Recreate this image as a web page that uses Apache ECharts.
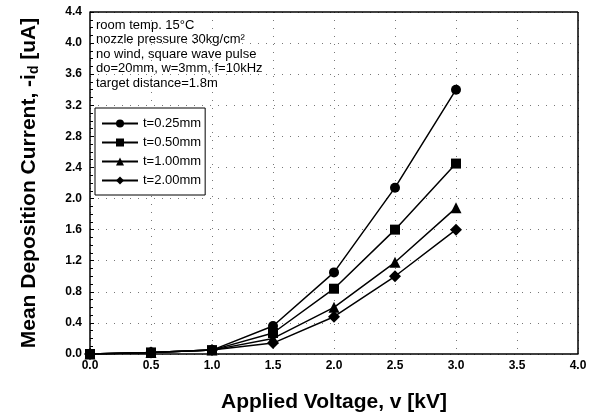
<!DOCTYPE html>
<html>
<head>
<meta charset="utf-8">
<script src="https://cdn.jsdelivr.net/npm/echarts@6/dist/echarts.min.js"></script>
<style>
  html, body { margin: 0; padding: 0; background: #fff; }
  #chart { width: 593px; height: 417px; }
</style>
</head>
<body>
<div id="chart"></div>
<script>
// voltage (kV)
var voltage = [0, 0.5, 1.0, 1.5, 2.0, 2.5, 3.0];
// mean deposition current (uA) per thickness
var t025 = [0, 0.02, 0.05, 0.36, 1.05, 2.14, 3.40];
var t050 = [0, 0.02, 0.05, 0.27, 0.84, 1.60, 2.45];
var t100 = [0, 0.02, 0.05, 0.20, 0.60, 1.18, 1.88];
var t200 = [0, 0.02, 0.05, 0.14, 0.48, 1.00, 1.60];
var seriesNames = ["t=0.25mm", "t=0.50mm", "t=1.00mm", "t=2.00mm"];
var symbols = ["circle", "rect", "triangle", "diamond"];
var notes = [
  "room temp. 15°C",
  "nozzle pressure 30kg/cm²",
  "no wind, square wave pulse",
  "do=20mm, w=3mm, f=10kHz",
  "target distance=1.8m"
];

var chart = echarts.init(document.getElementById("chart"));
var font = "Liberation Sans, Arial, sans-serif";

function pairs(ys) {
  var out = [];
  for (var i = 0; i < ys.length; i++) {
    out.push([voltage[i], ys[i]]);
  }
  return out;
}

var allData = [t025, t050, t100, t200];
var sizes = [10, 10, 11, 12];
var series = [];
for (var k = 0; k < allData.length; k++) {
  series.push({
    name: seriesNames[k],
    type: "line",
    data: pairs(allData[k]),
    symbol: symbols[k],
    symbolSize: sizes[k],
    itemStyle: { color: "#000" },
    lineStyle: { color: "#000", width: 1.5 },
    z: 3
  });
}

var option = {
  animation: false,
  textStyle: { fontFamily: font },
  grid: { left: 90, right: 15, top: 12, bottom: 63, containLabel: false, outerBoundsMode: "none" },
  title: {
    text: notes.join("\n"),
    left: 91,
    top: 13,
    textStyle: {
      fontFamily: font,
      fontSize: 13,
      fontWeight: "normal",
      color: "#000",
      lineHeight: 14.5
    }
  },
  legend: {
    orient: "vertical",
    left: 95,
    top: 108,
    data: seriesNames,
    backgroundColor: "#fff",
    borderColor: "#000",
    borderWidth: 1,
    padding: [9, 4, 8, 6],
    itemGap: 6,
    itemWidth: 36,
    itemHeight: 10,
    textStyle: { fontFamily: font, fontSize: 13, color: "#000" }
  },
  xAxis: {
    type: "value",
    min: 0,
    max: 4,
    interval: 0.5,
    name: "Applied Voltage, v [kV]",
    nameLocation: "middle",
    nameGap: 38,
    nameTextStyle: { fontFamily: font, fontSize: 21, fontWeight: "bold", color: "#000" },
    axisLine: { show: true, lineStyle: { color: "#000", width: 1.5 } },
    axisTick: { show: false },
    axisLabel: {
      color: "#000",
      fontSize: 12,
      fontWeight: "bold",
      margin: 6,
      formatter: function (v) { return v.toFixed(1); }
    },
    splitLine: { show: true, lineStyle: { color: "#777", type: [1, 7], width: 1 } }
  },
  yAxis: {
    type: "value",
    min: 0,
    max: 4.4,
    interval: 0.4,
    name: "{b|Mean Deposition Current, -i}{s|d}{b| [uA]}",
    nameLocation: "middle",
    nameGap: 49,
    nameTextStyle: {
      rich: {
        b: { fontFamily: font, fontSize: 21, fontWeight: "bold", color: "#000" },
        s: { fontFamily: font, fontSize: 14, fontWeight: "bold", color: "#000", verticalAlign: "bottom", padding: [10, 0, 0, 0] }
      }
    },
    axisLine: { show: true, lineStyle: { color: "#000", width: 1.5 } },
    axisTick: { show: true, inside: true, length: 4, lineStyle: { color: "#000" } },
    minorTick: { show: true, splitNumber: 4, length: 3, lineStyle: { color: "#000" } },
    axisLabel: {
      color: "#000",
      fontSize: 12,
      fontWeight: "bold",
      formatter: function (v) { return v.toFixed(1); }
    },
    splitLine: { show: true, lineStyle: { color: "#777", type: [1, 7], width: 1 } }
  },
  series: series.concat([{
    // top and right frame
    type: "line",
    data: [],
    markLine: {
      silent: true,
      symbol: "none",
      label: { show: false },
      lineStyle: { color: "#000", type: "solid", width: 1.5 },
      data: [
        [{ coord: [0, 4.4] }, { coord: [4, 4.4] }],
        [{ coord: [4, 0] }, { coord: [4, 4.4] }]
      ]
    }
  }])
};

chart.setOption(option);
</script>
</body>
</html>
